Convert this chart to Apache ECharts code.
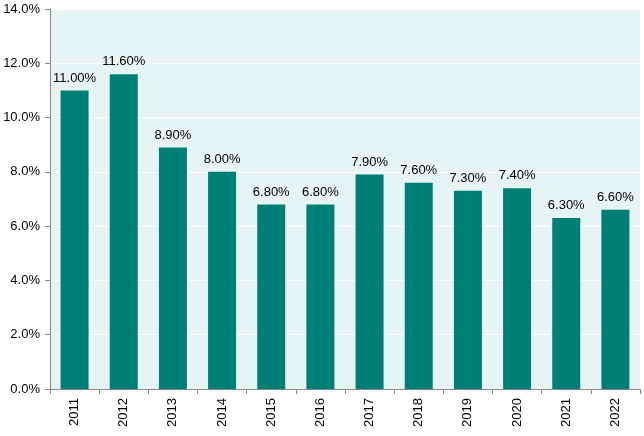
<!DOCTYPE html>
<html><head><meta charset="utf-8">
<script src="https://cdn.jsdelivr.net/npm/echarts@6/dist/echarts.min.js"></script>
<style>html,body{margin:0;padding:0;background:#fff}#c{width:644px;height:436px}</style>
</head><body><div id="c"></div>
<script>
const categories = ['2011','2012','2013','2014','2015','2016','2017','2018','2019','2020','2021','2022'];
const values = [11.0, 11.6, 8.9, 8.0, 6.8, 6.8, 7.9, 7.6, 7.3, 7.4, 6.3, 6.6];
const chart = echarts.init(document.getElementById('c'), null, {renderer:'canvas'});
const font = 'Liberation Sans, Arial, sans-serif';
chart.setOption({
  animation:false,
  grid:{left:50,right:4,top:9,bottom:47,show:true,backgroundColor:'#e6f5f4',borderWidth:0},
  xAxis:{type:'category',data:categories,
    axisLine:{lineStyle:{color:'#888',width:1}},
    axisTick:{show:true,alignWithLabel:false,length:5,lineStyle:{color:'#888'}},
    axisLabel:{rotate:90,color:'#000',fontFamily:font,fontSize:13,margin:9}},
  yAxis:{type:'value',min:0,max:14,interval:2,
    axisLine:{show:true,lineStyle:{color:'#888'}},
    axisTick:{show:true,length:5,lineStyle:{color:'#888'}},
    splitLine:{lineStyle:{color:'#ffffff',width:1}},
    axisLabel:{color:'#000',fontFamily:font,fontSize:13,margin:10,formatter:v=>v.toFixed(1)+'%'}},
  series:[{type:'bar',data:values,barWidth:28,itemStyle:{color:'#007f77'},
    label:{show:true,position:'top',distance:6,color:'#000',fontFamily:font,fontSize:13,formatter:p=>p.value.toFixed(2)+'%'}}]
});
</script></body></html>
